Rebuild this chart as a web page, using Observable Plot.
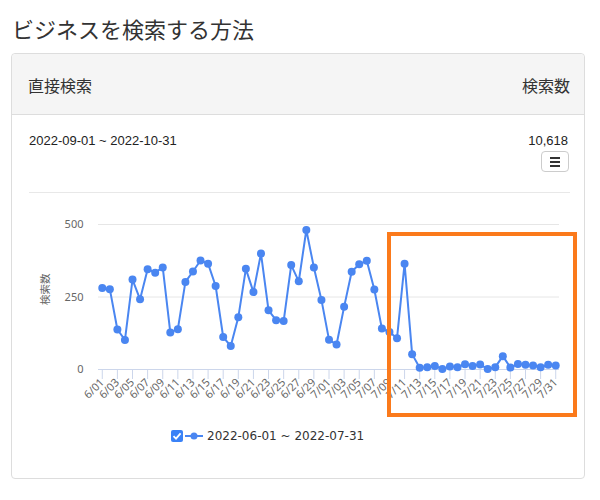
<!DOCTYPE html>
<html>
<head>
<meta charset="utf-8">
<script src="https://cdn.jsdelivr.net/npm/d3@7"></script>
<script src="https://cdn.jsdelivr.net/npm/@observablehq/plot@0.6"></script>
<style>
  html, body { margin: 0; padding: 0; background: #fff; }
  body { width: 600px; height: 500px; position: relative; overflow: hidden;
         font-family: "Liberation Sans", "Noto Sans CJK JP", sans-serif; color: #333; }
  .jp { font-family: "Noto Sans CJK JP", "Liberation Sans", sans-serif; }
  #title { position: absolute; left: 12px; top: 12px; font-size: 22px; color: #333; }
  #panel { position: absolute; left: 11px; top: 53px; width: 572px; height: 424px;
           border: 1px solid #ddd; border-radius: 4px; }
  #head { position: absolute; left: 0; top: 0; right: 0; height: 60px; background: #f5f5f5;
          border-bottom: 1px solid #ddd; border-radius: 4px 4px 0 0; }
  #head .l { position: absolute; left: 16px; top: 19px; font-size: 16px; }
  #head .r { position: absolute; right: 14px; top: 19px; font-size: 16px; }
  #range { position: absolute; left: 17px; top: 79px; font-size: 13px; color: #222; }
  #total { position: absolute; right: 16px; top: 79px; font-size: 13px; color: #222; }
  #btn { position: absolute; left: 529px; top: 97px; width: 26px; height: 19px;
         border: 1px solid #ccc; border-radius: 4px; background: #fff; }
  #btn i { position: absolute; left: 8px; width: 10px; height: 2px; background: #333; }
  #sep { position: absolute; left: 17px; top: 138px; width: 541px; height: 1px; background: #e8e8e8; }
  #chart { position: absolute; left: 20px; top: 200px; }
  #hl { position: absolute; left: 387px; top: 232px; width: 182px; height: 177px;
        border: 4px solid #fb7a1b; }
  #legend { position: absolute; left: 171px; top: 428px; height: 16px; display: flex; align-items: center;
            font-size: 12px; color: #333; }
  #cb { width: 12px; height: 12px; border-radius: 2px; background: #3a82f7; position: relative; }
  #cb svg { position: absolute; left: 0; top: 0; }
  #sym { margin-left: 2px; width: 18px; height: 12px; }
  #legend span { margin-left: 4px; font-family: "DejaVu Sans", sans-serif; font-size: 12px; }
</style>
</head>
<body>
<div id="title" class="jp">ビジネスを検索する方法</div>
<div id="panel">
  <div id="head"><div class="l jp">直接検索</div><div class="r jp">検索数</div></div>
  <div id="range">2022-09-01 ~ 2022-10-31</div>
  <div id="total">10,618</div>
  <div id="btn"><i style="top:5px"></i><i style="top:9px"></i><i style="top:13px"></i></div>
  <div id="sep"></div>
</div>
<div id="chart"></div>
<div id="hl"></div>
<div id="legend">
  <div id="cb"><svg width="12" height="12"><path d="M2.5 6.2 L5 8.6 L9.6 3.4" fill="none" stroke="#fff" stroke-width="1.8"/></svg></div>
  <svg id="sym" viewBox="0 0 18 12"><line x1="0" y1="6" x2="18" y2="6" stroke="#4a86f1" stroke-width="2"/><circle cx="9" cy="6" r="3.5" fill="#4a86f1"/></svg>
  <span>2022-06-01 ~ 2022-07-31</span>
</div>
<script>
const dates = [
  "6/01","6/02","6/03","6/04","6/05","6/06","6/07","6/08","6/09","6/10",
  "6/11","6/12","6/13","6/14","6/15","6/16","6/17","6/18","6/19","6/20",
  "6/21","6/22","6/23","6/24","6/25","6/26","6/27","6/28","6/29","6/30",
  "7/01","7/02","7/03","7/04","7/05","7/06","7/07","7/08","7/09","7/10",
  "7/11","7/12","7/13","7/14","7/15","7/16","7/17","7/18","7/19","7/20",
  "7/21","7/22","7/23","7/24","7/25","7/26","7/27","7/28","7/29","7/30","7/31"
];
const searches = [
  281, 277, 138, 102, 310, 242, 346, 334, 352, 128,
  139, 302, 338, 376, 365, 288, 112, 81, 180, 347,
  267, 400, 204, 170, 167, 360, 304, 481, 352, 240,
  103, 86, 216, 337, 363, 375, 276, 141, 129, 108,
  365, 53, 6, 8, 12, 2, 10, 8, 18, 12,
  17, 2, 8, 46, 7, 19, 16, 14, 8, 16, 14
];
const yTicks = [0, 250, 500];
const xTicks = dates.filter((d, i) => i % 2 === 0);
const yLabel = "検索数";

const data = dates.map((d, i) => ({date: d, value: searches[i]}));
const blue = "#4a86f1";

const chart = Plot.plot({
  width: 560,
  height: 220,
  marginLeft: 78,
  marginRight: 21,
  marginTop: 24,
  marginBottom: 51,
  style: {fontFamily: "'Noto Sans', 'DejaVu Sans', sans-serif", fontSize: "11px", color: "#666", background: "transparent"},
  x: {type: "point", domain: dates, padding: 0.5},
  y: {domain: [0, 500]},
  marks: [
    Plot.gridY(yTicks.filter(v => v > 0), {stroke: "#e6e6e6", strokeOpacity: 1}),
    Plot.ruleY([0], {stroke: "#ccd6eb"}),
    Plot.axisY(yTicks, {tickSize: 0, tickPadding: 15, fill: "#666", label: null}),
    Plot.axisX(xTicks, {tickSize: 10, stroke: "#ccd6eb", strokeOpacity: 1, fill: "#666", tickRotate: -45, tickPadding: 1, label: null}),
    Plot.text([yLabel], {frameAnchor: "left", dx: -53, dy: 8, rotate: -90, fill: "#666", fontSize: 10.5, fontFamily: "'Noto Sans CJK JP', sans-serif"}),
    Plot.line(data, {x: "date", y: "value", stroke: blue, strokeWidth: 2}),
    Plot.dot(data, {x: "date", y: "value", r: 4, fill: blue})
  ]
});
document.getElementById("chart").appendChild(chart);
</script>
</body>
</html>
